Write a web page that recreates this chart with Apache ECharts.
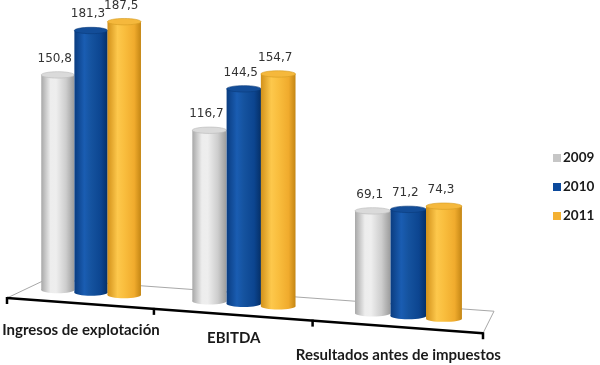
<!DOCTYPE html>
<html><head><meta charset="utf-8">
<script src="https://cdn.jsdelivr.net/npm/echarts/dist/echarts.min.js"></script>
<style>html,body{margin:0;padding:0;background:#fff}#c{width:600px;height:365px}</style>
</head><body><div id="c"></div>
<script>
// ---- data ----
const categories = ['Ingresos de explotación', 'EBITDA', 'Resultados antes de impuestos'];
const years = ['2009', '2010', '2011'];
const values2009 = [150.8, 116.7, 69.1];
const values2010 = [181.3, 144.5, 71.2];
const values2011 = [187.5, 154.7, 74.3];
const seriesValues = [values2009, values2010, values2011];

// ---- styles ----
const legendColors = ['#c6c6c6', '#0c4a9c', '#f4b132'];
const bodyStops = [
  [[0, '#a8a8a8'], [0.28, '#ededed'], [0.45, '#eeeeee'], [0.75, '#cdcdcd'], [1, '#9c9c9c']],
  [[0, '#0a3c80'], [0.3, '#1a5db2'], [0.5, '#15539f'], [0.8, '#0c4590'], [1, '#053068']],
  [[0, '#d2911a'], [0.3, '#fdc84c'], [0.5, '#f9be3e'], [0.8, '#f0ab2d'], [1, '#c48614']]
];
const topFill = ['#dadada', '#134d98', '#f5b83c'];
const topStroke = ['#b8b8b8', '#0a3a7a', '#d49a22'];

// perspective helpers (layout only)
function geom(api, i) {
  const c0 = api.coord([i, 0]);
  const band = api.size([1, 0])[0];
  const left = c0[0] - band * (i + 0.5);
  const W = s => left + band * (0.889 * s + 0.037 * s * s);
  const y0 = c0[1];
  const front = x => y0 - 2 + 0.074 * (x - left);
  const f = x => 1 + 0.00023 * (x - 60);
  return { band, left, W, y0, front, f };
}

function fmt(v) { return v.toFixed(1).replace('.', ','); }

function cylinderRender(k) {
  return function (params, api) {
    const i = api.value(0), v = api.value(1);
    const g = geom(api, i);
    const gc = g.W(i + 0.5) + 12;
    const wg = 33 * g.f(gc);
    const cx = gc + (k - 1) * wg;
    const fx = g.f(cx);
    const w = 33 * fx;
    const pv = api.coord([i, v]);
    const h = (g.y0 - pv[1]) * fx;
    const ry = 3.2;
    const bottom = g.front(cx) - 8.5;
    const top = bottom - h;
    const grad = { type: 'linear', x: 0, y: 0, x2: 1, y2: 0,
      colorStops: bodyStops[k].map(s => ({ offset: s[0], color: s[1] })) };
    return {
      type: 'group',
      children: [
        { type: 'ellipse', shape: { cx: cx, cy: bottom - ry, rx: w / 2, ry: ry }, style: { fill: grad } },
        { type: 'rect', shape: { x: cx - w / 2, y: top + ry, width: w, height: h - 2 * ry }, style: { fill: grad } },
        { type: 'ellipse', shape: { cx: cx, cy: top + ry, rx: w / 2, ry: ry }, style: { fill: topFill[k], stroke: topStroke[k], lineWidth: 0.6 } },
        { type: 'text', style: { text: fmt(v), x: cx - 3, y: top - 13, align: 'center', verticalAlign: 'middle',
            font: '12px "DejaVu Sans"', fill: '#333333' } }
      ]
    };
  };
}

function floorRender(params, api) {
  const g = geom(api, 0);
  const xl = g.W(0), xr = g.W(3);
  const yl = g.front(xl), yr = g.front(xr);
  const children = [
    { type: 'polygon', shape: { points: [[xl, yl], [xr, yr], [xr + 11, yr - 22], [xl + 40, yl - 19]] },
      style: { fill: '#ffffff', stroke: '#a8a8a8', lineWidth: 1 } },
    { type: 'line', shape: { x1: xl, y1: yl, x2: xr, y2: yr }, style: { stroke: '#000', lineWidth: 2.5 } }
  ];
  for (let t = 0; t <= 3; t++) {
    const x = g.W(t), y = g.front(x);
    children.push({ type: 'line', shape: { x1: x, y1: y - 1, x2: x, y2: y + 6 }, style: { stroke: '#000', lineWidth: 2.5 } });
  }
  const labelDy = [27, 23, 28];
  categories.forEach((name, i) => {
    const x = g.W(i + 0.5) + 2;
    children.push({ type: 'text', style: { text: name, x: x, y: g.front(x) + labelDy[i], align: 'center', verticalAlign: 'middle',
      font: 'bold 15px Lato', fill: '#1a1a1a' } });
  });
  return { type: 'group', children: children };
}

const chart = echarts.init(document.getElementById('c'), null, { renderer: 'canvas' });
const series = [{
  type: 'custom', name: 'floor', renderItem: floorRender, data: [[0, 0]], z: 1, silent: true
}];
years.forEach((y, k) => {
  series.push({
    type: 'custom', name: y, z: 2,
    itemStyle: { color: legendColors[k] },
    renderItem: cylinderRender(k),
    data: seriesValues[k].map((v, i) => [i, v]),
    encode: { x: 0, y: 1 }
  });
});
chart.setOption({
  animation: false,
  backgroundColor: '#ffffff',
  grid: { left: 7, width: 476, top: 6, bottom: 65 },
  xAxis: { type: 'category', data: categories, show: false },
  yAxis: { type: 'value', min: 0, max: 200, show: false },
  legend: {
    data: years, orient: 'vertical', left: 553, top: 151,
    itemWidth: 8, itemHeight: 8, itemGap: 15, padding: 0, icon: 'rect',
    textStyle: { fontFamily: 'Lato', fontWeight: 'bold', fontSize: 13.5, color: '#1a1a1a', lineHeight: 14, padding: [0, 0, 0, -3] }
  },
  series: series
});
</script></body></html>
